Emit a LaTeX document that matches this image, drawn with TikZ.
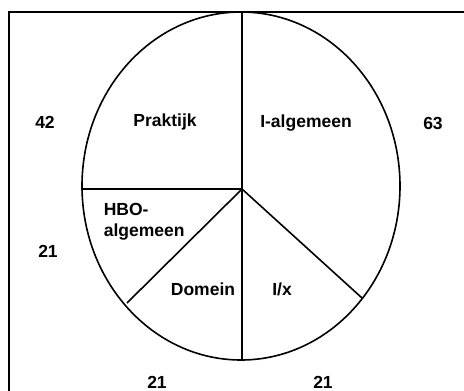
\documentclass[tikz,border=0pt]{standalone}
\usepackage{fontspec}
\setmainfont{Liberation Sans}
\tikzstyle{every node}=[inner sep=0pt, font=\fontsize{17.5}{21}\selectfont\bfseries]
\tikzstyle{every picture}=[x=1pt, y=-1pt, line width=1.6pt]
\tikzstyle{count}=[anchor=center]

\begin{document}
\begin{tikzpicture}
      \useasboundingbox (0,0) rectangle (464,391);
      \draw (9,391) -- (9,12) -- (464,12);
      \draw (241,186) ellipse [x radius=159, y radius=174];
      \coordinate (hub) at (242,189);
      \coordinate (top) at (242,12);
      \coordinate (bottom) at (242,360);
      \coordinate (left) at (82,189);
      \coordinate (lowleft) at (127,303);
      \coordinate (lowright) at (362,298);
	\draw (hub)--(top);
	\draw (hub)--(bottom);
	\draw (hub)--(left);
	\draw (hub)--(lowleft);
	\draw (hub)--(lowright);
      \node (praktijk) at (165,122) {Praktijk};
      \node (ialgemeen) at (306,123) {I-algemeen};
      \node[anchor=west, align=left] (hbo) at (103,222) {HBO-\\algemeen};
      \node (domein) at (203,289) {Domein};
      \node (ix) at (282,289) {I/x};
      \node[count] (n42) at (45,122) {42};
      \node[count] (n63) at (433,123) {63};
      \node[count] (nhbo) at (48,251) {21};
      \node[count] (ndomein) at (157,382) {21};
      \node[count] (nix) at (323,382) {21};
    \end{tikzpicture}
\end{document}
